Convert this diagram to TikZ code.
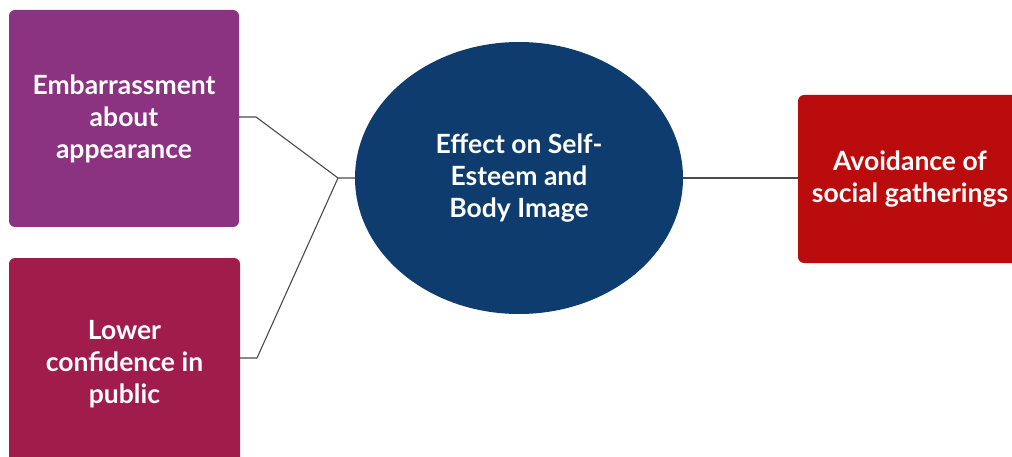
\documentclass[tikz,border=0pt]{standalone}
\usepackage{fontspec}
\setmainfont{Lato}
\usetikzlibrary{shapes.geometric}
\definecolor{boxA}{HTML}{8B3281}
\definecolor{boxB}{HTML}{A01C4B}
\definecolor{boxC}{HTML}{BA0C0C}
\definecolor{ell}{HTML}{0E3C6F}
\definecolor{lnk}{HTML}{4A4A4A}
\tikzset{
  card/.style={fill=#1, draw=none, rounded corners=6pt, text=white, align=center,
    font=\fontsize{26.5}{32}\selectfont\bfseries, inner sep=0pt},
  link/.style={draw=lnk, line width=1.1pt},
}
\begin{document}
\begin{tikzpicture}[x=1pt,y=-1pt]
\useasboundingbox (0,0) rectangle (1012,457);
\node[card=boxA, minimum width=230pt, minimum height=217pt] (emb) at (124,118.5) {Embarrassment\\about\\appearance};
\node[card=boxB, minimum width=231pt, minimum height=212pt] (low) at (124.5,364) {Lower\\confidence in\\public};
\node[card=boxC, minimum width=224pt, minimum height=168pt] (avo) at (910,179) {Avoidance of\\social gatherings};
\node[ellipse, fill=ell, text=white, align=center, inner sep=0pt, minimum width=328pt, minimum height=272pt,
  font=\fontsize{26.5}{32}\selectfont\bfseries] (eff) at (519,178) {Effect on Self-\\Esteem and\\Body Image};
\coordinate (j) at (338,178);
\coordinate (e1) at (256,117);
\coordinate (l1) at (257,358);
\draw[link] (emb.east |- e1) -- (e1) -- (j) -- (eff.west);
\draw[link] (low.east |- l1) -- (l1) -- (j);
\draw[link] (eff.east) -- (avo.west |- eff.east);
\end{tikzpicture}
\end{document}
